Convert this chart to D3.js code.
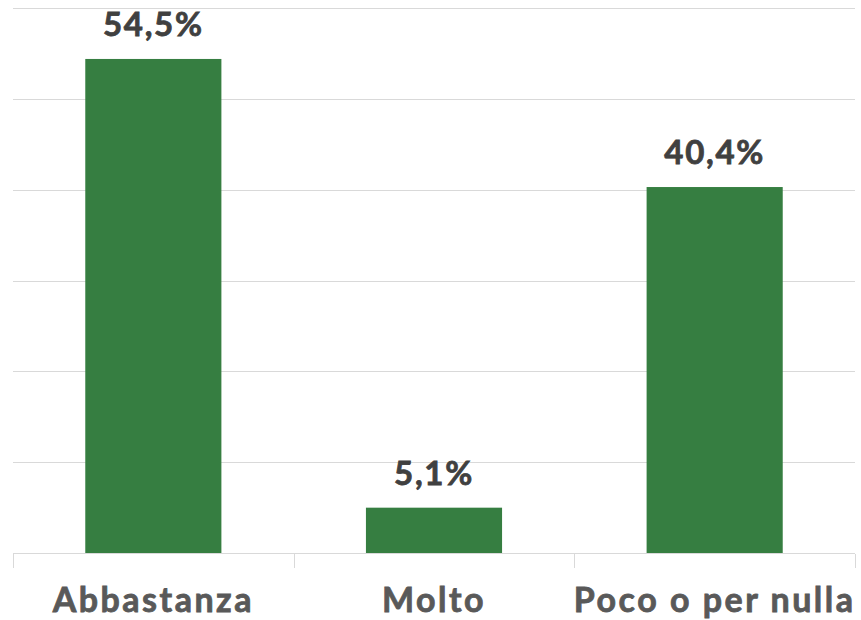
<!DOCTYPE html>
<html>
<head>
<meta charset="utf-8">
<script src="https://cdn.jsdelivr.net/npm/d3@7"></script>
<style>
  body { margin: 0; background: #fff; }
  svg { display: block; }
</style>
</head>
<body>
<svg id="chart" width="861" height="620"></svg>
<script>
let categories = ["Abbastanza", "Molto", "Poco o per nulla"]
let values = [54.5, 5.1, 40.4]
let labels = ["54,5%", "5,1%", "40,4%"]
let gridTicks = [0, 10, 20, 30, 40, 50, 60]

let svg = d3.select("#chart")
let plotLeft = 13, plotRight = 855, plotTop = 9, plotBottom = 554

let x = d3.scaleBand()
    .domain(categories)
    .range([plotLeft, plotRight])
    .paddingInner(0.515)
    .paddingOuter(0.2575)

let y = d3.scaleLinear()
    .domain([0, 60])
    .range([plotBottom, plotTop])

// gridlines
svg.append("g")
    .selectAll("line")
    .data(gridTicks)
    .join("line")
    .attr("x1", plotLeft)
    .attr("x2", plotRight)
    .attr("y1", d => Math.round(y(d)) - 0.5)
    .attr("y2", d => Math.round(y(d)) - 0.5)
    .attr("stroke", "#d9d9d9")
    .attr("stroke-width", 1)

// category separators (tick marks)
let bandStep = (plotRight - plotLeft) / categories.length
svg.append("g")
    .selectAll("line")
    .data(d3.range(categories.length + 1))
    .join("line")
    .attr("x1", i => Math.round(plotLeft + i * bandStep) + 0.5)
    .attr("x2", i => Math.round(plotLeft + i * bandStep) + 0.5)
    .attr("y1", plotBottom)
    .attr("y2", plotBottom + 14)
    .attr("stroke", "#d9d9d9")
    .attr("stroke-width", 1)

// bars
svg.append("g")
    .selectAll("rect")
    .data(values)
    .join("rect")
    .attr("x", (d, i) => x(categories[i]))
    .attr("y", d => y(d))
    .attr("width", x.bandwidth())
    .attr("height", d => y(0) - y(d) - 1)
    .attr("fill", "#367e41")

// value labels
svg.append("g")
    .selectAll("text")
    .data(values)
    .join("text")
    .attr("x", (d, i) => x(categories[i]) + x.bandwidth() / 2)
    .attr("y", d => y(d) - 23)
    .attr("text-anchor", "middle")
    .attr("font-family", "Lato, 'Noto Sans', sans-serif")
    .attr("font-weight", "bold")
    .attr("font-size", "33px")
    .attr("letter-spacing", "1.7px")
    .attr("fill", "#404040")
    .attr("stroke", "#404040")
    .attr("stroke-width", 0.8)
    .text((d, i) => labels[i])

// category labels
svg.append("g")
    .selectAll("text")
    .data(categories)
    .join("text")
    .attr("x", d => x(d) + x.bandwidth() / 2)
    .attr("y", 612)
    .attr("text-anchor", "middle")
    .attr("font-family", "Lato, 'Noto Sans', sans-serif")
    .attr("font-weight", "bold")
    .attr("font-size", "34px")
    .attr("letter-spacing", "2.5px")
    .attr("fill", "#595959")
    .attr("stroke", "#595959")
    .attr("stroke-width", 0.8)
    .text(d => d)
</script>
</body>
</html>
